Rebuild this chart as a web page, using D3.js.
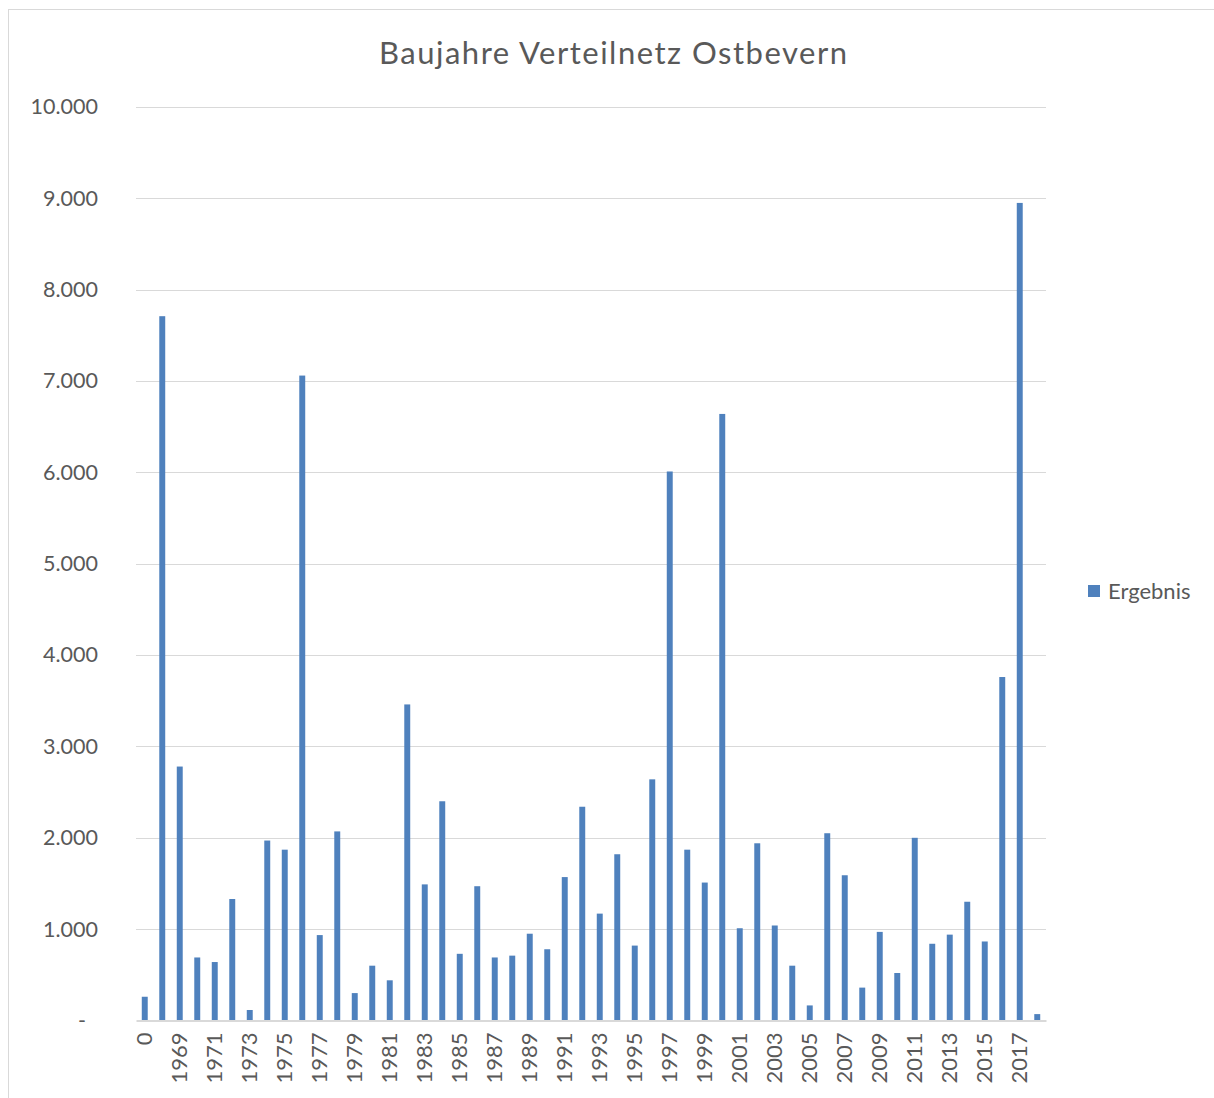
<!DOCTYPE html>
<html>
<head>
<meta charset="utf-8">
<script src="https://cdn.jsdelivr.net/npm/d3@7"></script>
<style>
    body { margin: 0; background: #fff; }
    text { font-family: Lato, "Open Sans", sans-serif; fill: #595959; }
</style>
</head>
<body>
<svg id="chart" width="1214" height="1098"></svg>
<script>
(function () {

    // Baujahre (Kategorien) - erste Kategorie "0" = unbekannt
    const years = ['0', '1968'].concat(d3.range(1969, 2019).map(String));

    // Leitungslaenge je Baujahr
    const ergebnis = [
        260, 7710, 2780, 690, 640, 1330, 115, 1970, 1870, 7060,
        935, 2070, 300, 600, 440, 3460, 1490, 2400, 730, 1470,
        690, 710, 950, 780, 1570, 2340, 1170, 1820, 820, 2640,
        6010, 1870, 1510, 6640, 1010, 1940, 1040, 600, 165, 2050,
        1590, 360, 970, 520, 2000, 840, 940, 1300, 865, 3760,
        8950, 70
    ];

    const yTicks = [0, 1000, 2000, 3000, 4000, 5000, 6000, 7000, 8000, 9000, 10000];

    const svg = d3.select('#chart');
    const fmt = d3.formatLocale({ decimal: ',', thousands: '.', grouping: [3], currency: ['', ''] }).format(',d');

    const x = d3.scaleBand()
        .domain(years)
        .range([136, 1046])
        .paddingInner(0.66)
        .paddingOuter(0.33);

    const y = d3.scaleLinear()
        .domain([0, 10000])
        .range([1020.5, 107]);

    // chart frame
    svg.append('rect')
        .attr('x', 8.5).attr('y', 9.5)
        .attr('width', 1230).attr('height', 1120)
        .attr('fill', 'none')
        .attr('stroke', '#d9d9d9');

    // title
    svg.append('text')
        .attr('x', 613).attr('y', 64)
        .attr('text-anchor', 'middle')
        .attr('textLength', 468)
        .attr('lengthAdjust', 'spacing')
        .style('font-size', '31px')
        .text('Baujahre Verteilnetz Ostbevern');

    // gridlines
    svg.append('g')
        .selectAll('line')
        .data(yTicks.slice(1))
        .join('line')
        .attr('x1', 136).attr('x2', 1046)
        .attr('y1', d => Math.round(y(d)) + 0.5)
        .attr('y2', d => Math.round(y(d)) + 0.5)
        .attr('stroke', '#d9d9d9');

    // y axis labels
    const yAxis = svg.append('g')
        .attr('transform', 'translate(136,0)')
        .call(d3.axisLeft(y).tickValues(yTicks).tickSize(0).tickPadding(38)
            .tickFormat(d => d === 0 ? '-' : fmt(d)));
    yAxis.select('.domain').remove();
    yAxis.selectAll('text')
        .style('font-size', '21.5px')
        .attr('fill', '#595959')
        .attr('dx', d => d === 0 ? -12 : 0);

    // bars
    svg.append('g')
        .selectAll('rect')
        .data(ergebnis)
        .join('rect')
        .attr('x', (d, i) => x(years[i]))
        .attr('width', x.bandwidth())
        .attr('y', d => y(d))
        .attr('height', d => y(0) - y(d))
        .attr('fill', '#4f81bd');

    // x axis
    const xAxis = svg.append('g')
        .attr('transform', `translate(0,${y(0)})`)
        .call(d3.axisBottom(x).tickSize(0).tickPadding(0)
            .tickFormat((d, i) => i % 2 === 0 ? d : ''));
    xAxis.select('.domain')
        .attr('stroke', '#d9d9d9')
        .attr('stroke-width', 2);
    xAxis.selectAll('text')
        .style('font-size', '22px')
        .attr('fill', '#595959')
        .attr('text-anchor', 'end')
        .attr('transform', 'rotate(-90)')
        .attr('x', -12)
        .attr('y', 0)
        .attr('dy', '0.35em');

    // legend
    const legend = svg.append('g').attr('transform', 'translate(1088,585)');
    legend.append('rect')
        .attr('width', 12).attr('height', 12)
        .attr('fill', '#4f81bd');
    legend.append('text')
        .attr('x', 20).attr('y', 13.5)
        .style('font-size', '22px')
        .text('Ergebnis');

})();
</script>
</body>
</html>
